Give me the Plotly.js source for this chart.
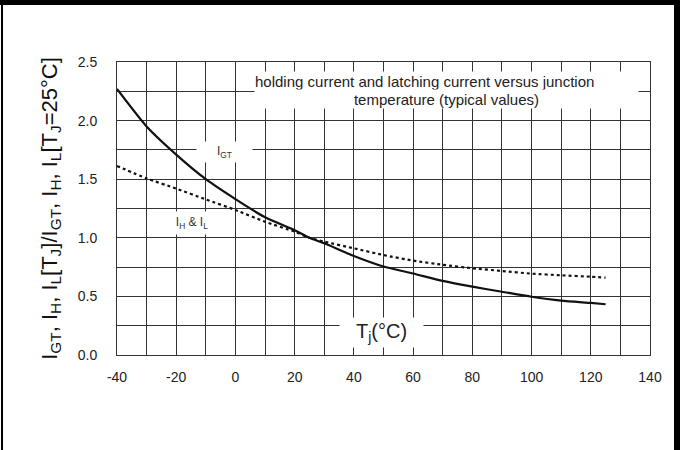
<!DOCTYPE html>
<html>
<head>
<meta charset="utf-8">
<script src="https://cdn.plot.ly/plotly-3.0.1.min.js"></script>
<style>
  html, body { margin: 0; padding: 0; background: #fff; }
  #wrap { position: relative; width: 683px; height: 450px; overflow: hidden; }
  #chart { position: absolute; left: 0; top: 0; width: 683px; height: 450px; }
  .bar { position: absolute; background: #000; }
</style>
</head>
<body>
<div id="wrap">
  <div id="chart"></div>
  <div class="bar" style="left:0;top:0;width:680px;height:5px;"></div>
  <div class="bar" style="left:1px;top:0;width:2px;height:450px;"></div>
  <div class="bar" style="left:674px;top:0;width:6px;height:450px;"></div>
</div>
<script>
// Junction temperature (°C)
const temps = [-40, -30, -20, -10, 0, 10, 20, 25, 30, 40, 50, 60, 70, 80, 90, 100, 110, 120, 125];
// Normalised gate trigger current I_GT
const igt = [2.27, 1.95, 1.71, 1.50, 1.33, 1.175, 1.065, 1.0, 0.953, 0.845, 0.755, 0.695, 0.632, 0.583, 0.54, 0.497, 0.464, 0.444, 0.433];
// Normalised holding & latching current I_H & I_L
const ihil = [1.613, 1.507, 1.42, 1.328, 1.237, 1.137, 1.052, 1.0, 0.967, 0.91, 0.853, 0.805, 0.77, 0.74, 0.717, 0.694, 0.68, 0.668, 0.66];

const xTickVals = [-40, -20, 0, 20, 40, 60, 80, 100, 120, 140];
const yTickVals = [0.0, 0.5, 1.0, 1.5, 2.0, 2.5];

const FONT = 'Liberation Sans, Arial, sans-serif';
const GRID = '#333';

const traces = [
  { x: temps, y: igt, mode: 'lines', name: 'IGT',
    line: { color: '#111', width: 2.2, shape: 'spline', smoothing: 0.6 }, hoverinfo: 'skip' },
  { x: temps, y: ihil, mode: 'lines', name: 'IH & IL',
    line: { color: '#111', width: 2.2, dash: 'dot', shape: 'spline', smoothing: 0.6 }, hoverinfo: 'skip' }
];

const layout = {
  width: 683, height: 450,
  margin: { l: 117, r: 33, t: 62, b: 95, pad: 0 },
  paper_bgcolor: '#fff', plot_bgcolor: '#fff',
  showlegend: false,
  font: { family: FONT, color: '#222', size: 14 },
  xaxis: {
    range: [-40, 140], tickvals: xTickVals, ticktext: xTickVals.map(String),
    showgrid: true, gridcolor: GRID, gridwidth: 1,
    minor: { dtick: 10, tick0: 0, showgrid: true, gridcolor: GRID, gridwidth: 1 },
    showline: true, mirror: true, linecolor: GRID, linewidth: 1,
    ticks: 'outside', ticklen: 9, tickcolor: 'rgba(0,0,0,0)',
    zeroline: false, tickfont: { size: 14, color: '#222' }, fixedrange: true
  },
  yaxis: {
    range: [0, 2.5], tickvals: yTickVals, ticktext: yTickVals.map(v => v.toFixed(1)),
    showgrid: true, gridcolor: GRID, gridwidth: 1,
    minor: { dtick: 0.25, tick0: 0, showgrid: true, gridcolor: GRID, gridwidth: 1 },
    showline: true, mirror: true, linecolor: GRID, linewidth: 1,
    ticks: 'outside', ticklen: 16, tickcolor: 'rgba(0,0,0,0)',
    zeroline: false, tickfont: { size: 14, color: '#222' }, fixedrange: true,
    title: {
      text: 'I<sub>GT</sub>, I<sub>H</sub>, I<sub>L</sub>[T<sub>J</sub>]/I<sub>GT</sub>, I<sub>H</sub>, I<sub>L</sub>[T<sub>J</sub>=25°C]',
      font: { size: 22, color: '#111', family: FONT }, standoff: 14
    }
  },
  annotations: [
    { xref: 'x', yref: 'y', x: 71.3, y: 2.338, xanchor: 'center', yanchor: 'middle',
      text: 'holding current and latching current versus junction', showarrow: false,
      bgcolor: '#fff', width: 383, height: 18, borderpad: 0, align: 'left',
      font: { size: 15, color: '#222' } },
    { xref: 'x', yref: 'y', x: 71.3, y: 2.184, xanchor: 'center', yanchor: 'middle',
      text: 'temperature (typical values)', showarrow: false,
      bgcolor: '#fff', width: 383, height: 18, borderpad: 0, align: 'center',
      font: { size: 15, color: '#222' } },
    { xref: 'x', yref: 'y', x: -3.7, y: 1.735, xanchor: 'center', yanchor: 'middle',
      text: 'I<sub>GT</sub>', showarrow: false, bgcolor: '#fff', width: 55, height: 20, borderpad: 0,
      font: { size: 12, color: '#333' } },
    { xref: 'x', yref: 'y', x: -14.67, y: 1.126, xanchor: 'center', yanchor: 'middle',
      text: 'I<sub>H</sub> & I<sub>L</sub>', showarrow: false, bgcolor: '#fff', width: 40, height: 22, borderpad: 0,
      font: { size: 12, color: '#333' } },
    { xref: 'x', yref: 'y', x: 49.33, y: 0.192, xanchor: 'center', yanchor: 'middle',
      text: 'T<sub>j</sub>(°C)', showarrow: false, bgcolor: '#fff', width: 83, height: 29, borderpad: 0,
      font: { size: 20, color: '#222' } }
  ]
};

Plotly.newPlot('chart', traces, layout, { displayModeBar: false, staticPlot: true });
</script>
</body>
</html>
